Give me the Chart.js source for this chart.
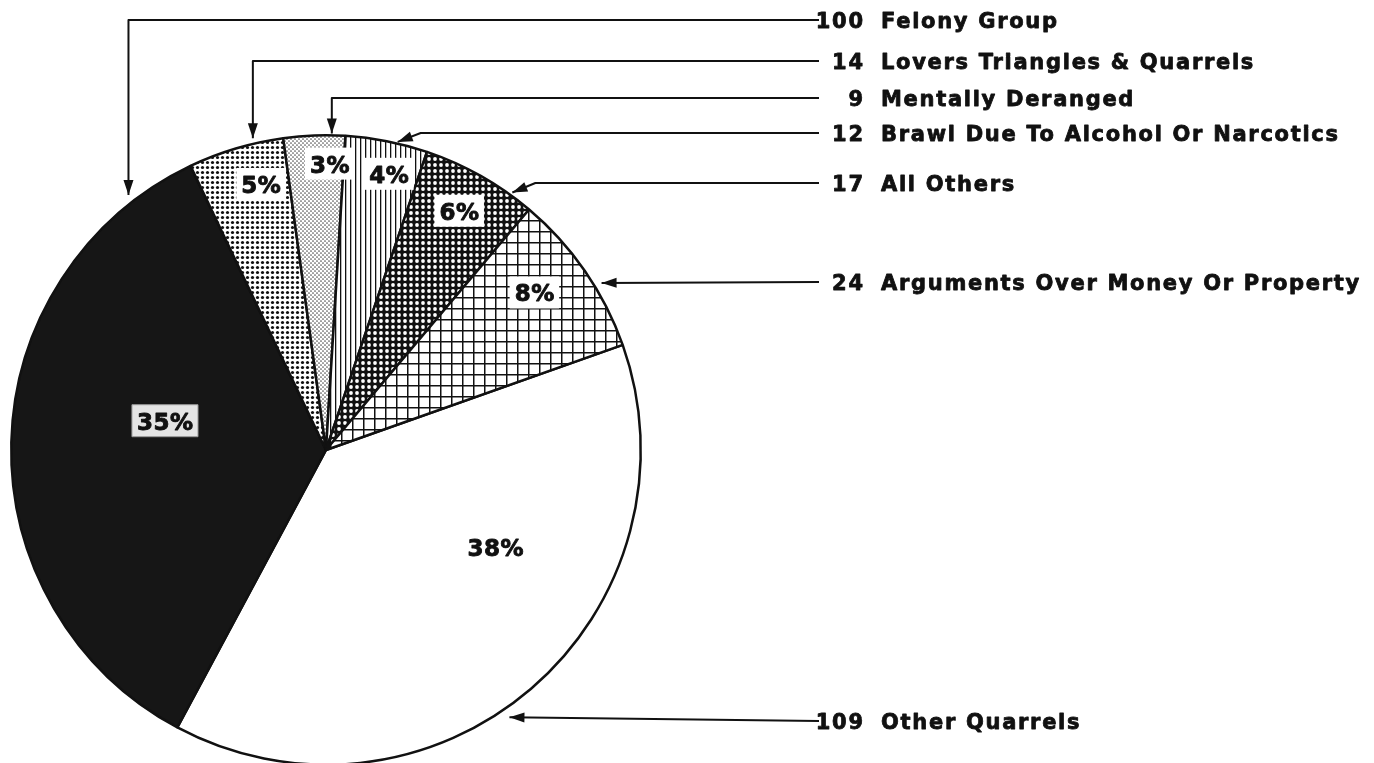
<!DOCTYPE html>
<html>
<head>
<meta charset="utf-8">
<script src="https://cdn.jsdelivr.net/npm/chart.js@4/dist/chart.umd.min.js"></script>
<style>
html, body { margin: 0; padding: 0; background: #fff; overflow: hidden; }
#wrap { position: relative; width: 1374px; height: 800px; }
</style>
</head>
<body>
<div id="wrap"><canvas id="chart" width="1374" height="800"></canvas></div>
<script>
var categories = [
  'Other Quarrels',
  'Felony Group',
  'Lovers Triangles & Quarrels',
  'Mentally Deranged',
  'Brawl Due To Alcohol Or Narcotics',
  'All Others',
  'Arguments Over Money Or Property'
];
var counts = [109, 100, 14, 9, 12, 17, 24];

// where the percent label sits inside its slice: [fraction of the slice angle, fraction of radius]
var labelSpots = [[0.357, 0.62], [0.571, 0.52], [0.667, 0.87], [0.754, 0.91], [0.612, 0.90], [0.484, 0.87], [0.42, 0.83]];
var labelBoxes = [null, '#e4e4e4', '#fff', '#fff', '#fff', '#fff', '#fff'];

// callouts: line y of the text row, arrow tip [fraction of slice angle, fraction of radius], route
var calloutRows = [721, 20, 61, 98, 133, 183, 282];
var calloutTips = [[0.545, 1.03], [0.903, 1.025], [0.695, 1.017], [0.78, 1.006], [0.63, 1.005], [0.80, 1.01], [0.613, 1.024]];
var calloutRoutes = ['straight', 'elbow', 'elbow', 'elbow', 'diag', 'diag', 'straight'];

var canvas = document.getElementById('chart');
var ctx = canvas.getContext('2d');

function makePattern(size, draw) {
  var c = document.createElement('canvas');
  c.width = size;
  c.height = size;
  var g = c.getContext('2d');
  g.fillStyle = '#fff';
  g.fillRect(0, 0, size, size);
  draw(g, size);
  return ctx.createPattern(c, 'repeat');
}

function dot(g, x, y, r, color) {
  g.fillStyle = color;
  g.beginPath();
  g.arc(x, y, r, 0, Math.PI * 2);
  g.fill();
}

var fills = [
  '#ffffff',
  '#161616',
  makePattern(5, function(g) { dot(g, 2.5, 2.5, 1.6, '#111'); }),
  makePattern(4, function(g) { dot(g, 1, 1, 0.85, '#555'); dot(g, 3, 3, 0.85, '#555'); }),
  makePattern(5, function(g, s) { g.fillStyle = '#111'; g.fillRect(0, 0, 1.3, s); }),
  makePattern(6, function(g, s) { g.fillStyle = '#111'; g.fillRect(0, 0, s, s); dot(g, 3, 3, 1.9, '#fff'); }),
  makePattern(11, function(g, s) { g.fillStyle = '#111'; g.fillRect(0, 0, 1.5, s); g.fillRect(0, 0, s, 1.5); })
];

var total = counts.reduce(function(a, b) { return a + b; }, 0);

function pointOn(arc, spot) {
  var a = arc.startAngle + spot[0] * (arc.endAngle - arc.startAngle);
  return { x: arc.x + Math.cos(a) * arc.outerRadius * spot[1], y: arc.y + Math.sin(a) * arc.outerRadius * spot[1] };
}

function textWidth(c, s) {
  var ls = parseFloat(c.letterSpacing) || 0;
  return c.measureText(s).width - ls;
}

// heavy text: fill plus a thin stroke of the same colour
function heavyText(c, s, x, y) {
  c.fillText(s, x, y);
  c.strokeText(s, x, y);
}

function arrowHead(c, fx, fy, tx, ty) {
  var ang = Math.atan2(ty - fy, tx - fx);
  var len = 15, half = 5;
  c.beginPath();
  c.moveTo(tx, ty);
  c.lineTo(tx - len * Math.cos(ang) + half * Math.sin(ang), ty - len * Math.sin(ang) - half * Math.cos(ang));
  c.lineTo(tx - len * Math.cos(ang) - half * Math.sin(ang), ty - len * Math.sin(ang) + half * Math.cos(ang));
  c.closePath();
  c.fill();
}

var annotate = {
  id: 'annotate',
  afterDatasetsDraw: function(chart) {
    var c = chart.ctx;
    var arcs = chart.getDatasetMeta(0).data;
    c.save();
    c.textBaseline = 'alphabetic';
    c.lineJoin = 'round';
    // percent labels
    c.font = 'bold 23px "DejaVu Sans", sans-serif';
    c.letterSpacing = '0.5px';
    arcs.forEach(function(el, i) {
      var arc = el.getProps(['x', 'y', 'startAngle', 'endAngle', 'outerRadius'], true);
      var p = pointOn(arc, labelSpots[i]);
      var txt = Math.round(counts[i] / total * 100) + '%';
      var w = textWidth(c, txt);
      if (labelBoxes[i]) {
        c.fillStyle = labelBoxes[i];
        c.fillRect(p.x - w / 2 - 5, p.y - 16, w + 10, 32);
        if (i === 1) {
          c.strokeStyle = '#9a9a9a';
          c.lineWidth = 1;
          c.strokeRect(p.x - w / 2 - 5, p.y - 16, w + 10, 32);
        }
      }
      c.fillStyle = '#111';
      c.strokeStyle = '#111';
      c.lineWidth = 0.9;
      heavyText(c, txt, p.x - w / 2, p.y + 9);
    });
    // callouts
    var lineEnd = 819, numRight = 863, nameLeft = 881;
    c.font = 'bold 21px "DejaVu Sans", sans-serif';
    c.letterSpacing = '1.7px';
    c.strokeStyle = '#111';
    c.fillStyle = '#111';
    arcs.forEach(function(el, i) {
      var arc = el.getProps(['x', 'y', 'startAngle', 'endAngle', 'outerRadius'], true);
      var tip = pointOn(arc, calloutTips[i]);
      var y = calloutRows[i];
      var from;
      c.lineWidth = 2;
      c.beginPath();
      c.moveTo(lineEnd, y);
      if (calloutRoutes[i] === 'elbow') {
        from = { x: tip.x, y: y };
      } else if (calloutRoutes[i] === 'diag') {
        from = { x: tip.x + 23, y: y };
      } else {
        from = { x: lineEnd, y: y };
      }
      c.lineTo(from.x, from.y);
      c.lineTo(tip.x, tip.y);
      c.stroke();
      arrowHead(c, from.x, from.y, tip.x, tip.y);
      var num = String(counts[i]);
      c.lineWidth = 0.8;
      heavyText(c, num, numRight - textWidth(c, num), y + 8);
      heavyText(c, categories[i], nameLeft, y + 8);
    });
    c.restore();
  }
};

new Chart(canvas, {
  type: 'pie',
  data: {
    labels: categories,
    datasets: [{
      data: counts,
      backgroundColor: fills,
      hoverBackgroundColor: fills,
      borderColor: '#111',
      hoverBorderColor: '#111',
      borderWidth: 2.5,
      hoverBorderWidth: 2.5,
      hoverOffset: 0
    }]
  },
  options: {
    responsive: false,
    animation: false,
    rotation: 70.5,
    layout: { padding: { left: 10, right: 732, top: 134, bottom: 34 } },
    events: [],
    plugins: {
      legend: { display: false },
      tooltip: { enabled: false },
      title: { display: false }
    }
  },
  plugins: [annotate]
});
</script>
</body>
</html>
